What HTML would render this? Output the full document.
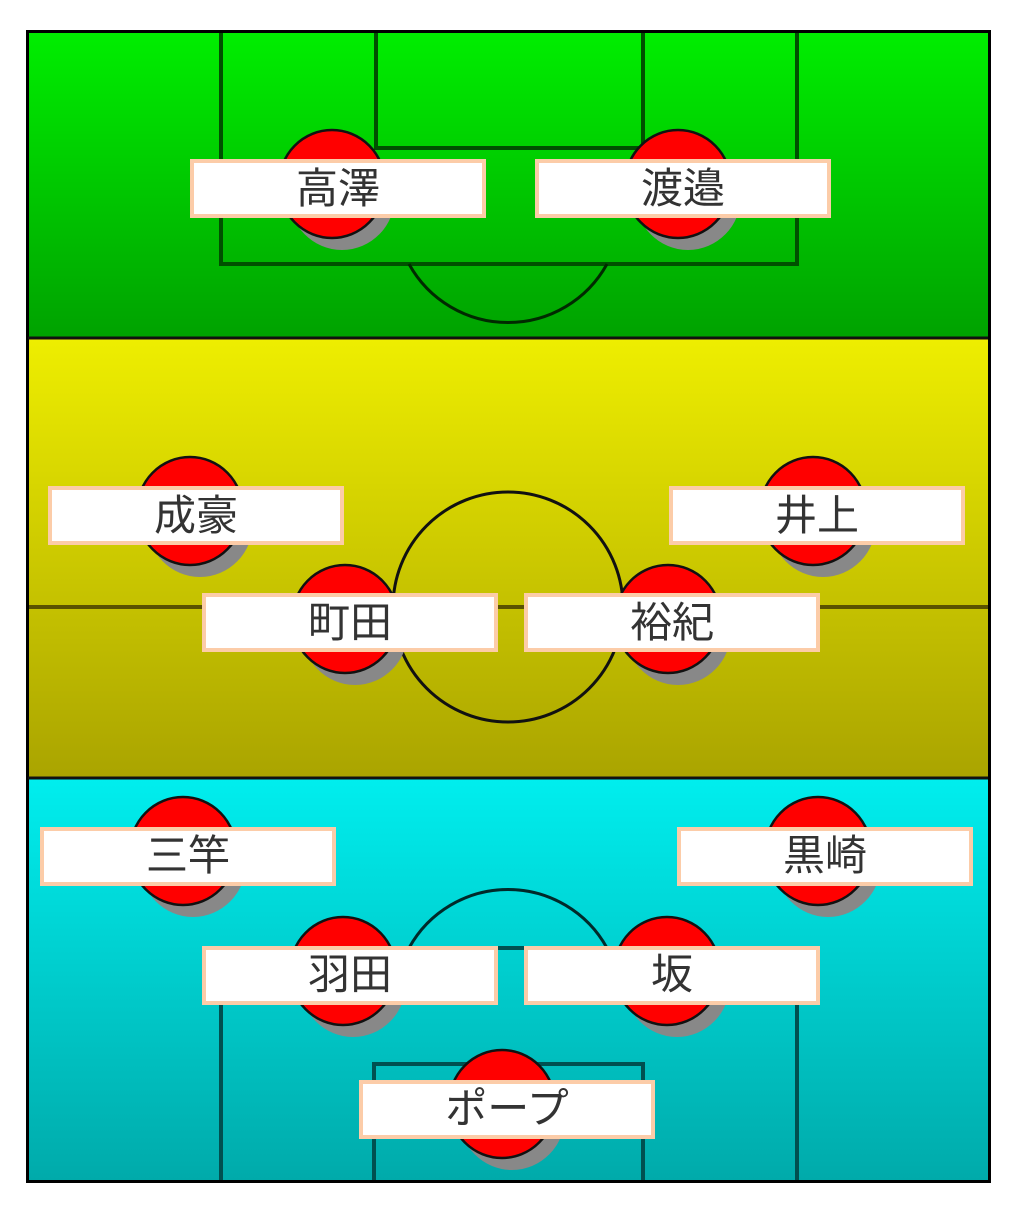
<!DOCTYPE html>
<html><head><meta charset="utf-8"><style>
body{margin:0;background:#fff;width:1022px;height:1216px;overflow:hidden}
svg{display:block}
text{font-family:"Liberation Sans","Noto Sans CJK JP",sans-serif;font-size:42px;fill:#333}
</style></head><body>
<svg width="1022" height="1216" viewBox="0 0 1022 1216">
<defs>
<linearGradient id="g" x1="0" y1="0" x2="0" y2="1"><stop offset="0" stop-color="#00ee00"/><stop offset="1" stop-color="#00a200"/></linearGradient>
<linearGradient id="y" x1="0" y1="0" x2="0" y2="1"><stop offset="0" stop-color="#eeee00"/><stop offset="1" stop-color="#aaa400"/></linearGradient>
<linearGradient id="c" x1="0" y1="0" x2="0" y2="1"><stop offset="0" stop-color="#00eeee"/><stop offset="1" stop-color="#00aaaa"/></linearGradient>
<clipPath id="cg"><rect x="28" y="32" width="960" height="305"/></clipPath>
<clipPath id="cc"><rect x="28" y="779" width="960" height="402"/></clipPath>
</defs>
<rect x="28" y="32" width="960" height="306" fill="url(#g)"/>
<rect x="28" y="338" width="960" height="440" fill="url(#y)"/>
<rect x="28" y="778" width="960" height="404" fill="url(#c)"/>
<g clip-path="url(#cg)" fill="none">
<path d="M221 30 V264 H797 V30" stroke="#005000" stroke-width="4"/>
<path d="M376 30 V148 H643 V30" stroke="#005000" stroke-width="4"/>
<path d="M409 264 A113 113 0 0 0 607 264" stroke="#002a00" stroke-width="3"/>
</g>
<line x1="28" y1="607" x2="988" y2="607" stroke="#5a5200" stroke-width="4"/>
<circle cx="508" cy="607" r="115" fill="none" stroke="#111" stroke-width="3"/>
<g clip-path="url(#cc)" fill="none">
<path d="M409 948 A113 113 0 0 1 607 948" stroke="#002a2a" stroke-width="3"/>
<path d="M221 1185 V948 H797 V1185" stroke="#005050" stroke-width="4"/>
<path d="M374 1185 V1064 H643 V1185" stroke="#005050" stroke-width="4"/>
</g>
<rect x="27.5" y="31.5" width="962" height="1150" fill="none" stroke="#000" stroke-width="3"/>
<line x1="28" y1="338" x2="988" y2="338" stroke="#111" stroke-width="3"/>
<line x1="28" y1="778" x2="988" y2="778" stroke="#111" stroke-width="3"/>
<g stroke="#111" stroke-width="2.5">
<ellipse cx="342" cy="196" rx="53" ry="54" fill="#888" stroke="none"/><ellipse cx="332" cy="184" rx="53" ry="54" fill="#f00"/>
<ellipse cx="688" cy="196" rx="53" ry="54" fill="#888" stroke="none"/><ellipse cx="678" cy="184" rx="53" ry="54" fill="#f00"/>
<ellipse cx="200" cy="523" rx="53" ry="54" fill="#888" stroke="none"/><ellipse cx="190" cy="511" rx="53" ry="54" fill="#f00"/>
<ellipse cx="823" cy="523" rx="53" ry="54" fill="#888" stroke="none"/><ellipse cx="813" cy="511" rx="53" ry="54" fill="#f00"/>
<ellipse cx="355" cy="631" rx="53" ry="54" fill="#888" stroke="none"/><ellipse cx="345" cy="619" rx="53" ry="54" fill="#f00"/>
<ellipse cx="678" cy="631" rx="53" ry="54" fill="#888" stroke="none"/><ellipse cx="668" cy="619" rx="53" ry="54" fill="#f00"/>
<ellipse cx="193" cy="863" rx="53" ry="54" fill="#888" stroke="none"/><ellipse cx="183" cy="851" rx="53" ry="54" fill="#f00"/>
<ellipse cx="828" cy="863" rx="53" ry="54" fill="#888" stroke="none"/><ellipse cx="818" cy="851" rx="53" ry="54" fill="#f00"/>
<ellipse cx="353" cy="983" rx="53" ry="54" fill="#888" stroke="none"/><ellipse cx="343" cy="971" rx="53" ry="54" fill="#f00"/>
<ellipse cx="677" cy="983" rx="53" ry="54" fill="#888" stroke="none"/><ellipse cx="667" cy="971" rx="53" ry="54" fill="#f00"/>
<ellipse cx="512" cy="1116" rx="53" ry="54" fill="#888" stroke="none"/><ellipse cx="502" cy="1104" rx="53" ry="54" fill="#f00"/>
</g>
<g fill="#fff" stroke="#fccca8" stroke-width="4">
<rect x="192" y="161" width="292" height="55"/>
<rect x="537" y="161" width="292" height="55"/>
<rect x="50" y="488" width="292" height="55"/>
<rect x="671" y="488" width="292" height="55"/>
<rect x="204" y="595" width="292" height="55"/>
<rect x="526" y="595" width="292" height="55"/>
<rect x="42" y="829" width="292" height="55"/>
<rect x="679" y="829" width="292" height="55"/>
<rect x="204" y="948" width="292" height="55"/>
<rect x="526" y="948" width="292" height="55"/>
<rect x="361" y="1082" width="292" height="55"/>
</g>
<g text-anchor="middle">
<text x="338" y="203">高澤</text>
<text x="683" y="203">渡邉</text>
<text x="196" y="530">成豪</text>
<text x="817" y="530">井上</text>
<text x="350" y="637">町田</text>
<text x="672" y="637">裕紀</text>
<text x="188" y="870">三竿</text>
<text x="825" y="870">黒崎</text>
<text x="350" y="989">羽田</text>
<text x="672" y="989">坂</text>
<text x="507" y="1123">ポープ</text>
</g>
</svg>
</body></html>
